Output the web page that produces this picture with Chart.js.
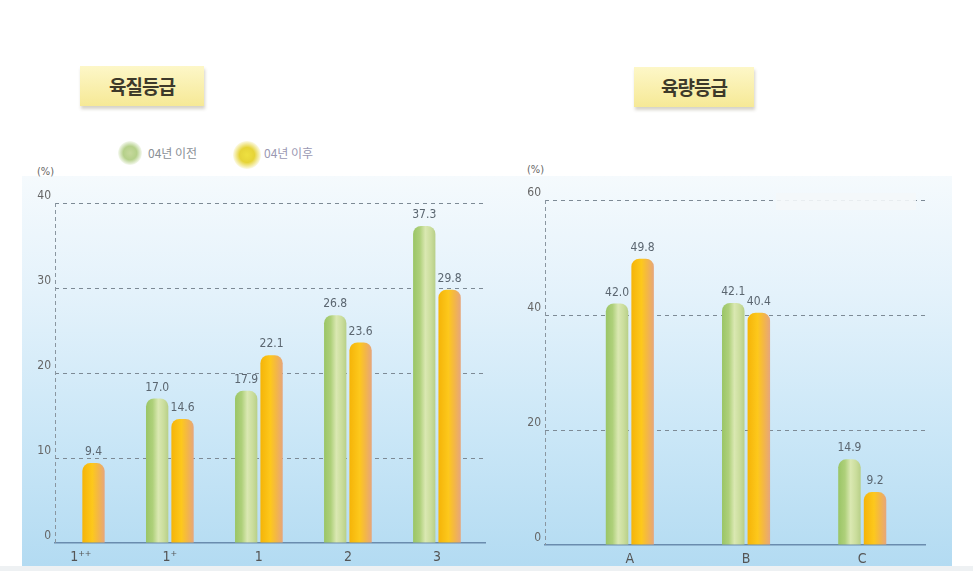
<!DOCTYPE html>
<html><head><meta charset="utf-8">
<script src="https://cdn.jsdelivr.net/npm/chart.js@4"></script>
<style>
html,body{margin:0;padding:0;background:#fff;}
#wrap{position:relative;width:973px;height:571px;overflow:hidden;background:#fff;font-family:'Noto Sans CJK KR',sans-serif;}
#panel{position:absolute;left:22px;top:176px;width:930px;height:390px;background:linear-gradient(to bottom,#f5fafd 0%,#e4f2fb 30%,#cbe7f7 65%,#b3dbf2 100%);}
#foot{position:absolute;left:0;top:566px;width:973px;height:5px;background:#eef1f3;}
.ttl{position:absolute;height:40px;line-height:40px;text-align:center;font-weight:700;font-size:19px;color:#3d392a;background:linear-gradient(#fdf7c8,#f6e996);box-shadow:1px 3px 3px rgba(90,80,40,.25);letter-spacing:-1px;}
.cv{position:absolute;top:130px;height:441px;}
.pct{position:absolute;font-family:'Liberation Sans Narrow','DejaVu Sans Condensed',sans-serif;font-size:11px;color:#666;}
.lg{position:absolute;font-size:12px;color:#8a9096;}
.dot{position:absolute;border-radius:50%;}
#blk{position:absolute;left:776px;top:193px;width:140px;height:17px;background:rgba(244,247,249,0.9);}
</style></head>
<body><div id="wrap">
<div id="panel"></div><div id="foot"></div>
<div class="ttl" style="left:80px;top:66px;width:124px;">육질등급</div>
<div class="ttl" style="left:634px;top:67px;width:120px;">육량등급</div>
<div class="dot" style="left:118px;top:141px;width:24px;height:24px;background:radial-gradient(circle,#c6d99c 0%,#b5d08a 40%,rgba(190,215,150,0) 75%);"></div>
<div class="lg" id="lg0" style="left:148px;top:144px;"></div>
<div class="dot" style="left:233px;top:141px;width:28px;height:28px;background:radial-gradient(circle,#eee040 0%,#e6d438 38%,rgba(240,230,120,0) 75%);"></div>
<div class="lg" id="lg1" style="left:264px;top:144px;color:#9a98b2;"></div>
<div class="pct" style="left:37px;top:165px;">(%)</div>
<div class="pct" style="left:527px;top:163px;">(%)</div>
<div class="cv" style="left:0;width:500px;"><canvas id="c1" width="500" height="441"></canvas></div>
<div class="cv" style="left:500px;width:473px;"><canvas id="c2" width="473" height="441"></canvas></div>
<div id="blk"></div>
</div>
<script>
// ---- data ----
const seriesNames = ['04년 이전', '04년 이후'];
const qualityGrades = ['1⁺⁺', '1⁺', '1', '2', '3'];
const qualityBefore = [null, 17.0, 17.9, 26.8, 37.3];
const qualityAfter = [9.4, 14.6, 22.1, 23.6, 29.8];
const qualityTicks = [0, 10, 20, 30, 40];
const yieldGrades = ['A', 'B', 'C'];
const yieldBefore = [42.0, 42.1, 14.9];
const yieldAfter = [49.8, 40.4, 9.2];
const yieldTicks = [0, 20, 40, 60];

document.getElementById('lg0').textContent = seriesNames[0];
document.getElementById('lg1').textContent = seriesNames[1];

const NUMFONT = "'Liberation Sans Narrow','DejaVu Sans Condensed',sans-serif";
const greenStops = [[0,'#9ac566'],[0.3,'#aed07a'],[0.55,'#dae8b2'],[0.8,'#cadd9c'],[1,'#b8cf88']];
const yellowStops = [[0,'#f5b408'],[0.45,'#fdc81c'],[0.72,'#f3b648'],[1,'#e6a67c']];

function barFill(stops, catPct, barPct) {
  return function(ctx) {
    const chart = ctx.chart, xs = chart.scales.x;
    if (!xs || !chart.chartArea) return stops[1][1];
    const step = xs.getPixelForValue(1) - xs.getPixelForValue(0);
    const slot = step * catPct / 2;
    const c = xs.getPixelForValue(ctx.dataIndex) - step * catPct / 2 + slot * (ctx.datasetIndex + 0.5);
    const w = slot * barPct;
    if (!isFinite(c) || !isFinite(w)) return stops[1][1];
    const g = chart.ctx.createLinearGradient(c - w / 2, 0, c + w / 2, 0);
    stops.forEach(s => g.addColorStop(s[0], s[1]));
    return g;
  };
}

const valueLabels = {
  id: 'valueLabels',
  afterDatasetsDraw(chart) {
    const ctx = chart.ctx;
    ctx.save();
    ctx.font = '12px ' + NUMFONT;
    ctx.fillStyle = '#5b6670';
    ctx.textAlign = 'center';
    ctx.textBaseline = 'bottom';
    chart.data.datasets.forEach((ds, di) => {
      chart.getDatasetMeta(di).data.forEach((el, i) => {
        const v = ds.data[i].y;
        if (v === null || v === undefined) return;
        ctx.fillText(v.toFixed(1), el.x, el.y - 5);
      });
    });
    ctx.restore();
  }
};

const axisDash = {
  id: 'axisDash',
  beforeDatasetsDraw(chart) {
    const a = chart.chartArea, ctx = chart.ctx;
    ctx.save();
    ctx.strokeStyle = '#8a96a0';
    ctx.lineWidth = 1;
    ctx.setLineDash([4, 3]);
    ctx.beginPath();
    ctx.moveTo(a.left + 0.5, a.top);
    ctx.lineTo(a.left + 0.5, a.bottom);
    ctx.stroke();
    ctx.restore();
  }
};

function makeChart(id, cats, before, after, ticks, opt) {
  const toPts = arr => arr.map((v, i) => ({x: i, y: v}));
  const rad = {topLeft: 8, topRight: 8, bottomLeft: 0, bottomRight: 0};
  return new Chart(document.getElementById(id), {
    type: 'bar',
    data: {
      datasets: [
        {label: seriesNames[0], data: toPts(before), backgroundColor: barFill(greenStops, opt.cat, opt.bar),
         categoryPercentage: opt.cat, barPercentage: opt.bar, borderRadius: rad, borderSkipped: 'start'},
        {label: seriesNames[1], data: toPts(after), backgroundColor: barFill(yellowStops, opt.cat, opt.bar),
         categoryPercentage: opt.cat, barPercentage: opt.bar, borderRadius: rad, borderSkipped: 'start'}
      ]
    },
    options: {
      responsive: false,
      animation: false,
      events: [],
      layout: {padding: opt.pad},
      plugins: {legend: {display: false}, tooltip: {enabled: false}},
      scales: {
        x: {
          type: 'linear', min: opt.xmin, max: opt.xmax, offset: false,
          grid: {display: false, drawTicks: false, offset: false},
          border: {display: true, color: '#6a8cae', width: 1.5},
          afterBuildTicks: s => { s.ticks = cats.map((c, i) => ({value: i})); },
          ticks: {autoSkip: false, maxRotation: 0,
                  callback: (v, i) => cats[i] !== undefined ? cats[i] : '',
                  color: '#555', font: {size: 14, family: NUMFONT}, padding: 6},
          afterFit: s => { s.height = 24; }
        },
        y: {
          min: ticks[0], max: ticks[ticks.length - 1],
          afterBuildTicks: s => { s.ticks = ticks.map(v => ({value: v})); },
          grid: {drawTicks: false, lineWidth: 1, color: c => c.tick && c.tick.value === 0 ? 'rgba(0,0,0,0)' : '#7d8a95'},
          border: {display: false, dash: [4, 4]},
          ticks: {color: '#666', font: {size: 12, family: NUMFONT}, padding: 4, labelOffset: -7},
          afterFit: s => { s.width = opt.yw; }
        }
      }
    },
    plugins: [axisDash, valueLabels]
  });
}

makeChart('c1', qualityGrades, qualityBefore, qualityAfter, qualityTicks,
  {cat: 0.57, bar: 0.88, xmin: -0.29, xmax: 4.54, pad: {top: 73, left: 20, right: 15, bottom: 4}, yw: 35});
makeChart('c2', yieldGrades, yieldBefore, yieldAfter, yieldTicks,
  {cat: 0.44, bar: 0.88, xmin: -0.73, xmax: 2.54, pad: {top: 70, left: 20, right: 48, bottom: 2}, yw: 25});
</script>
</body></html>
